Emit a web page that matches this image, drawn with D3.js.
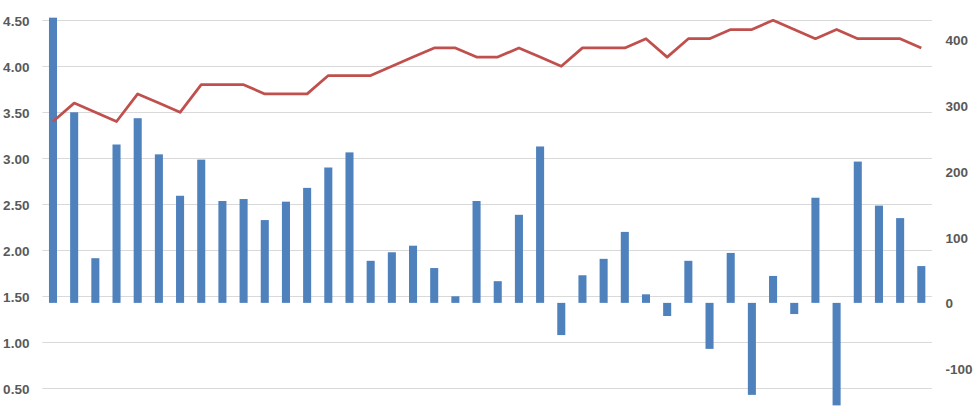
<!DOCTYPE html>
<html><head><meta charset="utf-8">
<script src="https://cdn.jsdelivr.net/npm/d3@7"></script>
<style>
html,body{margin:0;padding:0;background:#fff;overflow:hidden}
text{font-family:"Liberation Sans",Arial,sans-serif;font-weight:bold;font-size:13.5px;fill:#595959}
</style></head><body>
<svg id="c" width="977" height="416"></svg>
<script>
const categories = d3.range(1, 43).map(String);
const barValues = [434, 290, 68, 241, 281, 226, 163, 218, 155, 158, 126, 154, 175, 206,
  229, 64, 77, 87, 53, 10, 155, 33, 134, 238, -49, 42, 67, 108, 13,
  -20, 64, -70, 76, -140, 41, -17, 160, -156, 215, 148, 129, 56];
const lineValues = [3.4, 3.6, 3.5, 3.4, 3.7, 3.6, 3.5, 3.8, 3.8, 3.8, 3.7, 3.7, 3.7, 3.9,
  3.9, 3.9, 4.0, 4.1, 4.2, 4.2, 4.1, 4.1, 4.2, 4.1, 4.0, 4.2, 4.2, 4.2, 4.3,
  4.1, 4.3, 4.3, 4.4, 4.4, 4.5, 4.4, 4.3, 4.4, 4.3, 4.3, 4.3, 4.2];
const leftTicks = [0.5, 1, 1.5, 2, 2.5, 3, 3.5, 4, 4.5];
const rightTicks = [-100, 0, 100, 200, 300, 400];

const svg = d3.select("#c");
const plotLeft = 42.4, plotRight = 931.9, plotTop = -25.7, plotBottom = 434.3;

const x = d3.scaleBand().domain(categories).range([plotLeft, plotRight]).paddingInner(0.62).paddingOuter(0.31);
const yL = d3.scaleLinear().domain([0, 5]).range([plotBottom, plotTop]);
const yR = d3.scaleLinear().domain([-200, 500]).range([plotBottom, plotTop]);

// gridlines
svg.append("g").selectAll("line").data(leftTicks).join("line")
  .attr("x1", plotLeft).attr("x2", plotRight)
  .attr("y1", d => Math.round(yL(d)) + 0.5).attr("y2", d => Math.round(yL(d)) + 0.5)
  .attr("stroke", "#d9d9d9").attr("stroke-width", 1);

// left axis
const gL = svg.append("g").attr("transform", `translate(${plotLeft},0)`)
  .call(d3.axisLeft(yL).tickValues(leftTicks).tickFormat(d3.format(".2f")).tickSize(0).tickPadding(13));
gL.select(".domain").remove();
gL.selectAll("text").attr("dy", "0.36em");

// right axis
const gR = svg.append("g").attr("transform", `translate(${plotRight},0)`)
  .call(d3.axisRight(yR).tickValues(rightTicks).tickFormat(d => String(d)).tickSize(0).tickPadding(13.5));
gR.select(".domain").remove();
gR.selectAll("text").attr("dy", "0.36em");

// bars
svg.append("g").selectAll("rect").data(barValues).join("rect")
  .attr("x", (d, i) => x(categories[i]))
  .attr("width", x.bandwidth())
  .attr("y", d => yR(Math.max(0, d)))
  .attr("height", d => Math.abs(yR(d) - yR(0)))
  .attr("fill", "#4f81bd");

// line
const line = d3.line()
  .x((d, i) => x(categories[i]) + x.bandwidth() / 2)
  .y(d => yL(d));
svg.append("path").datum(lineValues)
  .attr("d", line)
  .attr("fill", "none")
  .attr("stroke", "#c0504d")
  .attr("stroke-width", 2.75)
  .attr("stroke-linejoin", "round");
</script>
</body></html>
